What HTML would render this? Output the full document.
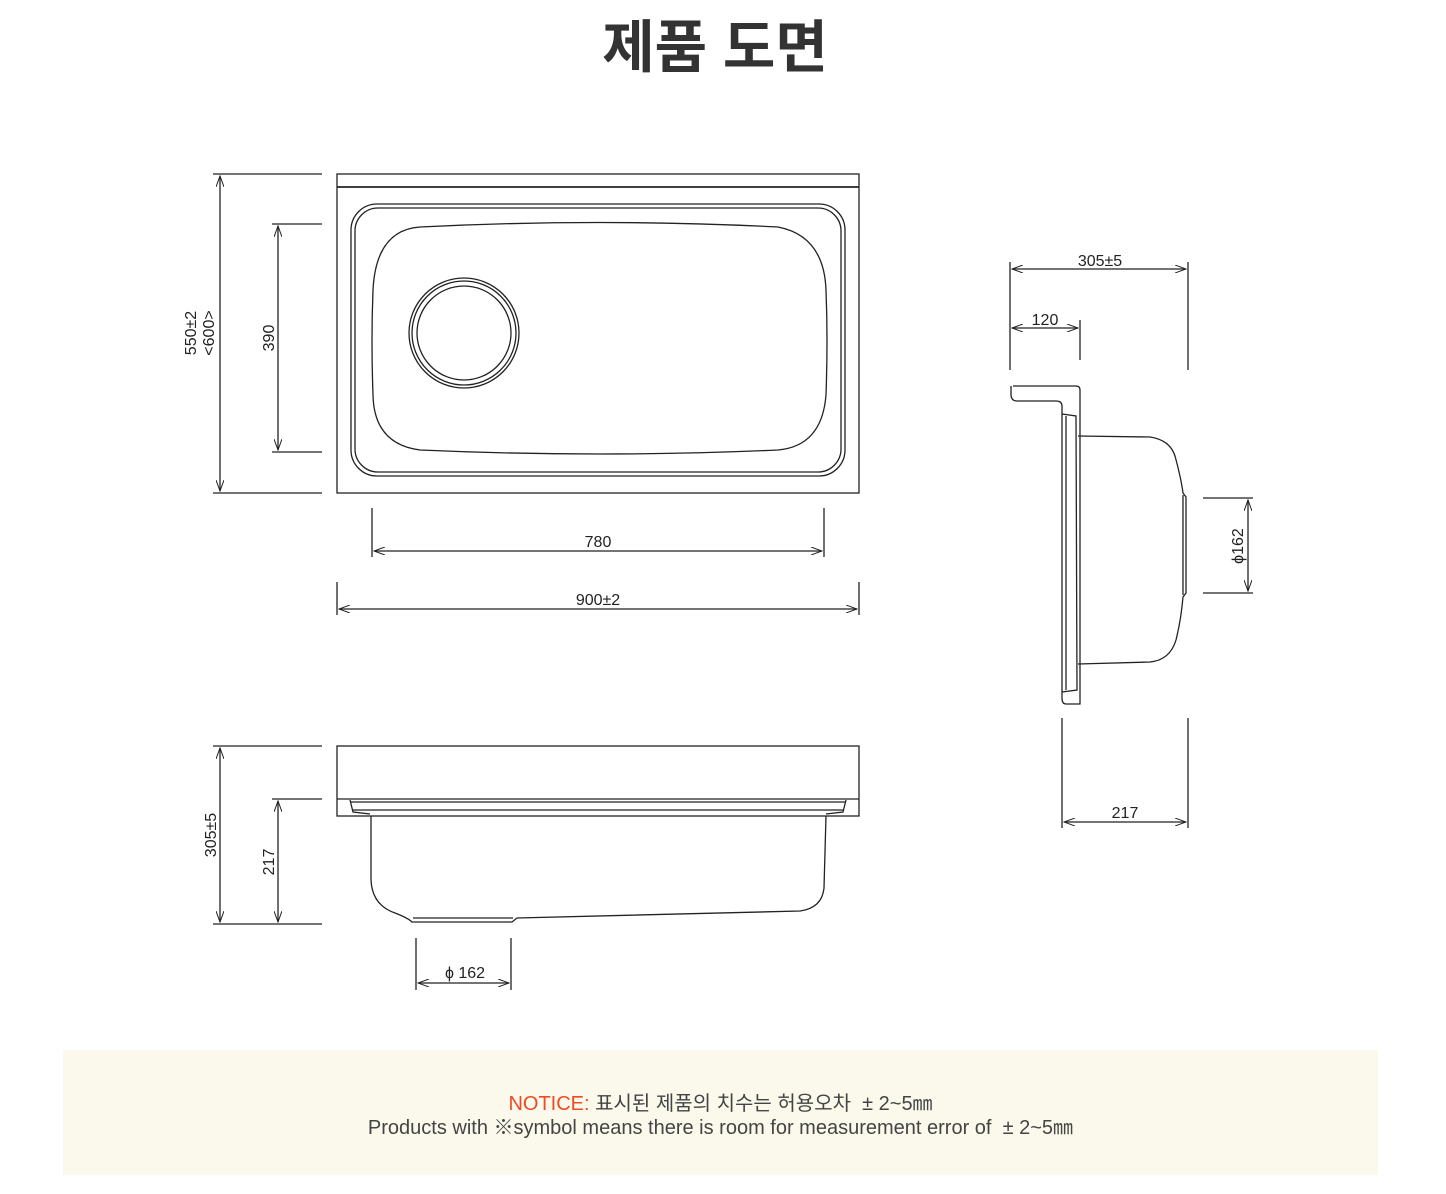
<!DOCTYPE html>
<html><head><meta charset="utf-8"><style>
html,body{margin:0;padding:0;background:#fff;}
body{width:1446px;height:1194px;position:relative;overflow:hidden;font-family:"Liberation Sans","Noto Sans CJK KR",sans-serif;}
svg{position:absolute;left:0;top:0;}
.t{font-family:"Liberation Sans",sans-serif;font-size:16px;fill:#222;}
</style></head><body>
<svg width="1446" height="1194" viewBox="0 0 1446 1194">
<defs>
<marker id="a" markerWidth="12" markerHeight="8" refX="11" refY="4" orient="auto-start-reverse" markerUnits="userSpaceOnUse">
<path d="M0,0 L11,4 L0,8" fill="none" stroke="#222" stroke-width="1"/></marker>
</defs>
<text x="715" y="67" text-anchor="middle" font-family="'Liberation Sans','Noto Sans CJK KR',sans-serif" font-weight="bold" font-size="57" fill="#333">제품 도면</text>

<g fill="none" stroke="#222" stroke-width="1.3">
<rect x="337" y="174" width="522" height="319"/>
<line x1="337" y1="187" x2="859" y2="187" stroke-width="1.7"/>
<rect x="351" y="204" width="494" height="272" rx="26"/>
<rect x="355" y="208" width="486" height="264" rx="23"/>
<path d="M420,227 Q600,218 778,227 Q824,236 826,290 Q828,340 826,395 Q822,446 778,450 Q600,458 420,450 Q374,444 373,395 Q371,340 373,290 Q376,230 420,227 Z"/>
<circle cx="464" cy="333" r="55"/>
<circle cx="464" cy="333" r="52"/>
<circle cx="464" cy="333" r="47"/>
<line x1="213" y1="174" x2="322" y2="174"/><line x1="213" y1="493" x2="322" y2="493"/>
<line x1="220" y1="176" x2="220" y2="491" marker-start="url(#a)" marker-end="url(#a)"/>
<line x1="272" y1="224" x2="322" y2="224"/><line x1="272" y1="452" x2="322" y2="452"/>
<line x1="278" y1="226" x2="278" y2="450" marker-start="url(#a)" marker-end="url(#a)"/>
<line x1="372" y1="508" x2="372" y2="557"/><line x1="824" y1="508" x2="824" y2="557"/>
<line x1="374" y1="551" x2="822" y2="551" marker-start="url(#a)" marker-end="url(#a)"/>
<line x1="337" y1="582" x2="337" y2="615"/><line x1="859" y1="582" x2="859" y2="615"/>
<line x1="339" y1="609" x2="857" y2="609" marker-start="url(#a)" marker-end="url(#a)"/>

<rect x="337" y="746" width="522" height="70"/>
<line x1="337" y1="799" x2="859" y2="799"/>
<line x1="350" y1="802" x2="846" y2="802"/>
<line x1="352" y1="810" x2="844" y2="810"/>
<path d="M350,800 L353,812 L370,814 M846,800 L843,812 L826,814"/>
<path d="M371,816 L371,880 Q372,905 395,913 Q408,918 412,922 L512,922 L517,918 L800,911 Q822,908 824,888 L826,816"/>
<line x1="413" y1="918" x2="513" y2="918"/>
<line x1="213" y1="746" x2="322" y2="746"/><line x1="272" y1="799" x2="322" y2="799"/><line x1="213" y1="924" x2="322" y2="924"/>
<line x1="220" y1="748" x2="220" y2="922" marker-start="url(#a)" marker-end="url(#a)"/>
<line x1="278" y1="801" x2="278" y2="922" marker-start="url(#a)" marker-end="url(#a)"/>
<line x1="416" y1="938" x2="416" y2="990"/><line x1="511" y1="938" x2="511" y2="990"/>
<line x1="418" y1="983" x2="509" y2="983" marker-start="url(#a)" marker-end="url(#a)"/>

<path d="M1013,386 L1076,386 Q1080,386 1080,390 L1080,704 L1066,704 Q1062,704 1062,698 L1062,406 Q1062,401 1056,401 L1017,401 Q1011,401 1011,394 L1011,386"/>
<path d="M1062,414 L1076,416 L1077,690 L1062,692"/>
<line x1="1066" y1="416" x2="1066" y2="690"/>
<path d="M1078,436 L1150,437 Q1170,440 1175,456 Q1181,478 1183,493 L1186,497 L1186,593 L1183,597 Q1181,620 1176,640 Q1170,660 1150,662 L1078,664"/>
<line x1="1183" y1="495" x2="1183" y2="595"/>
<line x1="1010" y1="262" x2="1010" y2="370"/><line x1="1188" y1="262" x2="1188" y2="370"/>
<line x1="1012" y1="269" x2="1186" y2="269" marker-start="url(#a)" marker-end="url(#a)"/>
<line x1="1080" y1="320" x2="1080" y2="360"/>
<line x1="1012" y1="328" x2="1078" y2="328" marker-start="url(#a)" marker-end="url(#a)"/>
<line x1="1062" y1="718" x2="1062" y2="828"/><line x1="1188" y1="718" x2="1188" y2="828"/>
<line x1="1064" y1="822" x2="1186" y2="822" marker-start="url(#a)" marker-end="url(#a)"/>
<line x1="1203" y1="498" x2="1253" y2="498"/><line x1="1203" y1="593" x2="1253" y2="593"/>
<line x1="1248" y1="500" x2="1248" y2="591" marker-start="url(#a)" marker-end="url(#a)"/>
</g>

<g class="t">
<text class="t" transform="translate(196,333) rotate(-90)" text-anchor="middle">550±2</text>
<text class="t" transform="translate(214,333) rotate(-90)" text-anchor="middle">&lt;600&gt;</text>
<text class="t" transform="translate(274,338) rotate(-90)" text-anchor="middle">390</text>
<text class="t" x="598" y="547" text-anchor="middle">780</text>
<text class="t" x="598" y="605" text-anchor="middle">900±2</text>
<text class="t" transform="translate(216,835) rotate(-90)" text-anchor="middle">305±5</text>
<text class="t" transform="translate(274,862) rotate(-90)" text-anchor="middle">217</text>
<text class="t" x="465" y="978" text-anchor="middle">ϕ 162</text>
<text class="t" x="1100" y="266" text-anchor="middle">305±5</text>
<text class="t" x="1045" y="325" text-anchor="middle">120</text>
<text class="t" x="1125" y="818" text-anchor="middle">217</text>
<text class="t" transform="translate(1243,546) rotate(-90)" text-anchor="middle">ϕ162</text>
</g>
</svg>
<div style="position:absolute;left:63px;top:1050px;width:1315px;height:125px;background:#fbf9ec;"></div>
<div style="position:absolute;left:63px;top:1092px;width:1315px;text-align:center;font-size:20px;line-height:24px;color:#444;letter-spacing:0px;">
<div><span style="color:#f04a23">NOTICE:</span> 표시된 제품의 치수는 허용오차 &nbsp;± 2~5㎜</div>
<div>Products with ※symbol means there is room for measurement error of &nbsp;± 2~5㎜</div>
</div>
</body></html>
